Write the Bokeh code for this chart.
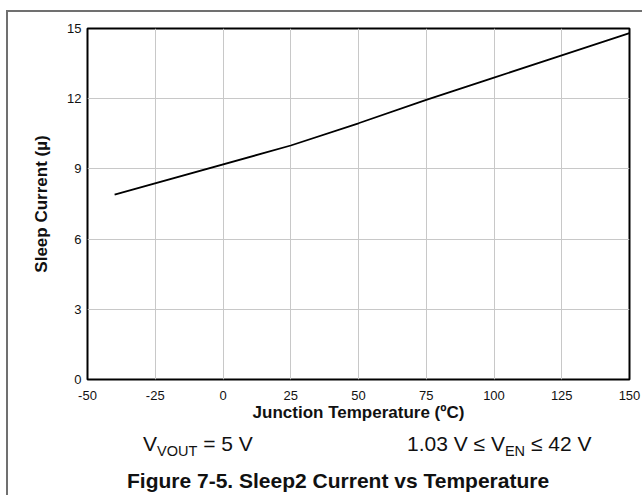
from bokeh.plotting import figure
from bokeh.models import FixedTicker, Range1d, Div
from bokeh.layouts import column
from bokeh.embed import file_html
from bokeh.resources import INLINE

# ---- data ----
temperature = [-40, 25, 50, 75, 100, 125, 150]
sleep_current = [7.9, 10.0, 10.95, 11.95, 12.9, 13.85, 14.8]
x_ticks = [-50, -25, 0, 25, 50, 75, 100, 125, 150]
x_tick_labels = ["-50", "-25", "0", "25", "50", "75", "100", "125", "150"]
y_ticks = [0, 3, 6, 9, 12, 15]
x_title = "Junction Temperature (ºC)"
y_title = "Sleep Current (µ)"
fig_title = "Figure 7-5. Sleep2 Current vs Temperature"
cond_left = ("V", "VOUT", " = 5 V")
cond_right = ("1.03 V ≤ V", "EN", " ≤ 42 V")

FONT = "Liberation Sans"
W, H = 634, 414
p = figure(width=W, height=H, output_backend="svg", toolbar_location=None,
           x_range=Range1d(-50, 150), y_range=Range1d(0, 15),
           min_border_left=79, min_border_right=13, min_border_top=16,
           min_border_bottom=47)

p.background_fill_color = "white"
p.border_fill_color = "white"
p.outline_line_color = "black"
p.outline_line_width = 2

p.xgrid.grid_line_color = "#c8c8c8"
p.ygrid.grid_line_color = "#c8c8c8"
p.xgrid.grid_line_width = 1
p.ygrid.grid_line_width = 1

p.xaxis.ticker = FixedTicker(ticks=x_ticks)
p.xaxis.major_label_overrides = dict(zip(x_ticks, x_tick_labels))
p.yaxis.ticker = FixedTicker(ticks=y_ticks)
for ax in (p.xaxis[0], p.yaxis[0]):
    ax.axis_line_color = None
    ax.major_tick_line_color = None
    ax.minor_tick_line_color = None
    ax.major_tick_out = 0
    ax.major_tick_in = 0
    ax.major_label_text_font = FONT
    ax.major_label_text_font_size = "13px"
    ax.major_label_text_color = "#111111"
    ax.axis_label_text_font = FONT
    ax.axis_label_text_font_style = "bold"
    ax.axis_label_text_color = "#111111"

p.xaxis.axis_label = x_title
p.xaxis.axis_label_text_font_size = "17px"
p.xaxis.major_label_standoff = 11
p.xaxis.axis_label_standoff = 0

p.yaxis.axis_label = y_title
p.yaxis.axis_label_text_font_size = "17px"
p.yaxis.major_label_standoff = 6
p.yaxis.axis_label_standoff = 13

p.line(temperature, sleep_current, line_color="black", line_width=1.8)

# ---- conditions and caption below the plot ----
def cond(parts, left):
    main, sub, rest = parts
    return (f'<div style="position:absolute;left:{left}px;top:2px;white-space:pre;'
            f'font:21px/21px \'{FONT}\';color:#111">{main}'
            f'<span style="font-size:14.5px;vertical-align:-5px">{sub}</span>{rest}</div>')

html = (f'<div style="position:relative;width:{W}px;height:69px">'
        + cond(cond_left, 130) + cond(cond_right, 394)
        + f'<div style="position:absolute;left:114px;top:39px;white-space:pre;'
          f'font:bold 21px/21px \'{FONT}\';color:#111">{fig_title}</div>'
        + '</div>')
caption = Div(text=html, width=W, height=69)

layout = column(p, caption, spacing=0,
                styles={"margin-left": "6px", "margin-top": "10px",
                        "border-left": "2px solid #707070",
                        "border-top": "2px solid #707070"})

open("out.html", "w").write(file_html(layout, INLINE))
